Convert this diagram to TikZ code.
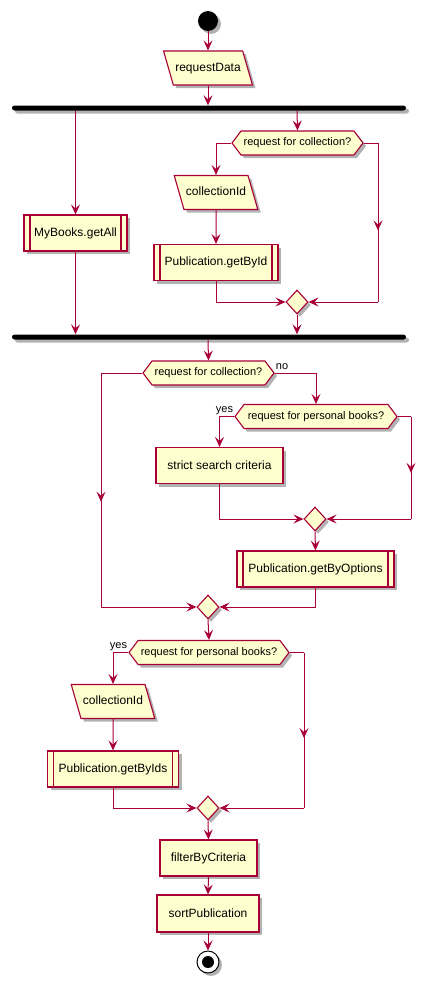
\documentclass[tikz,border=0pt]{standalone}
\usepackage{fontspec}
\setmainfont{Liberation Sans}
\usetikzlibrary{arrows.meta,shapes.geometric,shapes.symbols,shadows,decorations.markings}
\definecolor{umlfill}{HTML}{FEFECE}
\definecolor{umlline}{HTML}{A80036}
\tikzset{
    umlshadow/.style={drop shadow={shadow xshift=3pt,shadow yshift=-3pt,opacity=0.3,fill=black}},
    action/.style={rectangle, draw=umlline, fill=umlfill, line width=1.1pt, umlshadow,
        font=\fontsize{12}{14}\selectfont, inner sep=0pt, minimum height=36pt},
    sub/.style={action, path picture={
        \draw[umlline, line width=1.1pt]
            ([xshift=6pt]path picture bounding box.north west) -- ([xshift=6pt]path picture bounding box.south west)
            ([xshift=-6pt]path picture bounding box.north east) -- ([xshift=-6pt]path picture bounding box.south east);}},
    io/.style={trapezium, trapezium left angle=106, trapezium right angle=74, trapezium stretches body,
        draw=umlline, fill=umlfill, line width=1.1pt, umlshadow,
        font=\fontsize{12}{14}\selectfont, text height=9pt, text depth=3pt,
        inner xsep=2pt, inner ysep=11pt},
    choice/.style={signal, signal to=east and west, signal pointer angle=106,
        draw=umlline, fill=umlfill, line width=1.1pt, umlshadow,
        font=\fontsize{11}{13}\selectfont, inner sep=0pt, minimum height=24pt},
    merge/.style={diamond, draw=umlline, fill=umlfill, line width=1.1pt, umlshadow,
        inner sep=0pt, minimum width=22pt, minimum height=24pt},
    bar/.style={rectangle, rounded corners=2.5pt, fill=black, inner sep=0pt,
        minimum width=394pt, minimum height=5pt, umlshadow},
    startdot/.style={circle, fill=black, inner sep=0pt, minimum size=20pt, umlshadow},
    stopring/.style={circle, draw=black, fill=white, line width=1pt, inner sep=0pt, minimum size=22pt, umlshadow},
    stopdot/.style={circle, fill=black, inner sep=0pt, minimum size=12pt},
    lbl/.style={font=\fontsize{11}{13}\selectfont, inner sep=1pt},
    link/.style={color=umlline, line width=1pt},
    flow/.style={link, -{Stealth[length=10pt,width=9pt,inset=4pt]}},
    midarrow/.style={decoration={markings, mark=at position 0.55 with {\arrow{Stealth[length=10pt,width=9pt,inset=4pt]}}},
        postaction={decorate}}
}
\begin{document}
\begin{tikzpicture}[x=1pt,y=-1pt]
            \useasboundingbox (0,0) rectangle (426,982);

            \node[startdot] (start) at (208,21) {};
            \node[io, minimum width=88pt] (request) at (208,68) {requestData};
            \node[bar] (fork) at (209,108) {};
            \node[sub, minimum width=103pt] (getall) at (75.5,233) {MyBooks.getAll};
            \node[choice, minimum width=131pt] (askcoll) at (297.5,143) {request for collection?};
            \node[io, minimum width=82pt] (collid) at (216,192.5) {collectionId};
            \node[sub, minimum width=124pt] (getbyid) at (216,262.5) {Publication.getById};
            \node[merge] (mergeA) at (297,302) {};
            \node[bar] (join) at (209,337) {};

            \node[choice, minimum width=131pt] (askcollB) at (208.5,373) {request for collection?};
            \node[choice, minimum width=162pt] (askpers) at (316,416.5) {request for personal books?};
            \node[action, minimum width=127pt] (strict) at (219.5,465.5) {strict search criteria};
            \node[merge] (mergeB) at (315,519) {};
            \node[sub, minimum width=157pt] (byopts) at (315.5,569) {Publication.getByOptions};
            \node[merge] (mergeC) at (208,607) {};

            \node[choice, minimum width=160pt] (askpersB) at (209,652.5) {request for personal books?};
            \node[io, minimum width=81pt] (collidB) at (113,701.5) {collectionId};
            \node[sub, minimum width=131pt] (byids) at (113,769) {Publication.getByIds};
            \node[merge] (mergeD) at (208,808) {};
            \node[action, minimum width=97pt] (filter) at (208.5,858) {filterByCriteria};
            \node[action, minimum width=102pt, minimum height=37pt] (sort) at (208,913.5) {sortPublication};
            \node[stopring] (stop) at (208,962) {};
            \node[stopdot] (stopcore) at (stop) {};

            \node[lbl, anchor=south west] (no) at ([yshift=2pt]askcollB.east) {no};
            \node[lbl, anchor=south east] (yes) at ([yshift=1pt]askpers.west) {yes};
            \node[lbl, anchor=south east] (yesB) at ([yshift=1pt]askpersB.west) {yes};

            \coordinate (rightA) at (378,143);
            \coordinate (rightAend) at (378,302);
            \coordinate (leftB) at (101,373);
            \coordinate (leftBend) at (101,607);
            \coordinate (rightB) at (411,416.5);
            \coordinate (rightBend) at (411,519);
            \coordinate (rightD) at (304,652.5);
            \coordinate (rightDend) at (304,808);

            \draw[flow] (start) -- (request);
            \draw[flow] (request.south) -- (request.south |- fork.north);
            \draw[flow] (getall |- fork.south) -- (getall.north);
            \draw[flow] (getall.south) -- (getall |- join.north);
            \draw[flow] (297,110.5) -- (askcoll.north);
            \draw[flow] (askcoll.west) -| (collid.north);
            \draw[flow] (collid.south) -- (getbyid.north);
            \draw[flow] (getbyid.south) |- (mergeA.west);
            \draw[link] (askcoll.east) -- (rightA);
            \draw[link, midarrow] (rightA) -- (rightAend);
            \draw[flow] (rightAend) -- (mergeA.east);
            \draw[flow] (mergeA.south) -- (mergeA |- join.north);

            \draw[flow] (208,339.5) -- (askcollB.north);
            \draw[link] (askcollB.west) -- (leftB);
            \draw[link, midarrow] (leftB) -- (leftBend);
            \draw[flow] (leftBend) -- (mergeC.west);
            \draw[flow] (askcollB.east) -| (askpers.north);
            \draw[flow] (askpers.west) -| (strict.north);
            \draw[flow] (strict.south) |- (mergeB.west);
            \draw[link] (askpers.east) -- (rightB);
            \draw[link, midarrow] (rightB) -- (rightBend);
            \draw[flow] (rightBend) -- (mergeB.east);
            \draw[flow] (mergeB.south) -- (byopts.north);
            \draw[flow] (byopts.south) |- (mergeC.east);

            \draw[flow] (mergeC.south) -- (askpersB.north);
            \draw[flow] (askpersB.west) -| (collidB.north);
            \draw[flow] (collidB.south) -- (byids.north);
            \draw[flow] (byids.south) |- (mergeD.west);
            \draw[link] (askpersB.east) -- (rightD);
            \draw[link, midarrow] (rightD) -- (rightDend);
            \draw[flow] (rightDend) -- (mergeD.east);
            \draw[flow] (mergeD.south) -- (filter.north);
            \draw[flow] (filter.south) -- (sort.north);
            \draw[flow] (sort.south) -- (stop.north);

        \end{tikzpicture}
\end{document}
